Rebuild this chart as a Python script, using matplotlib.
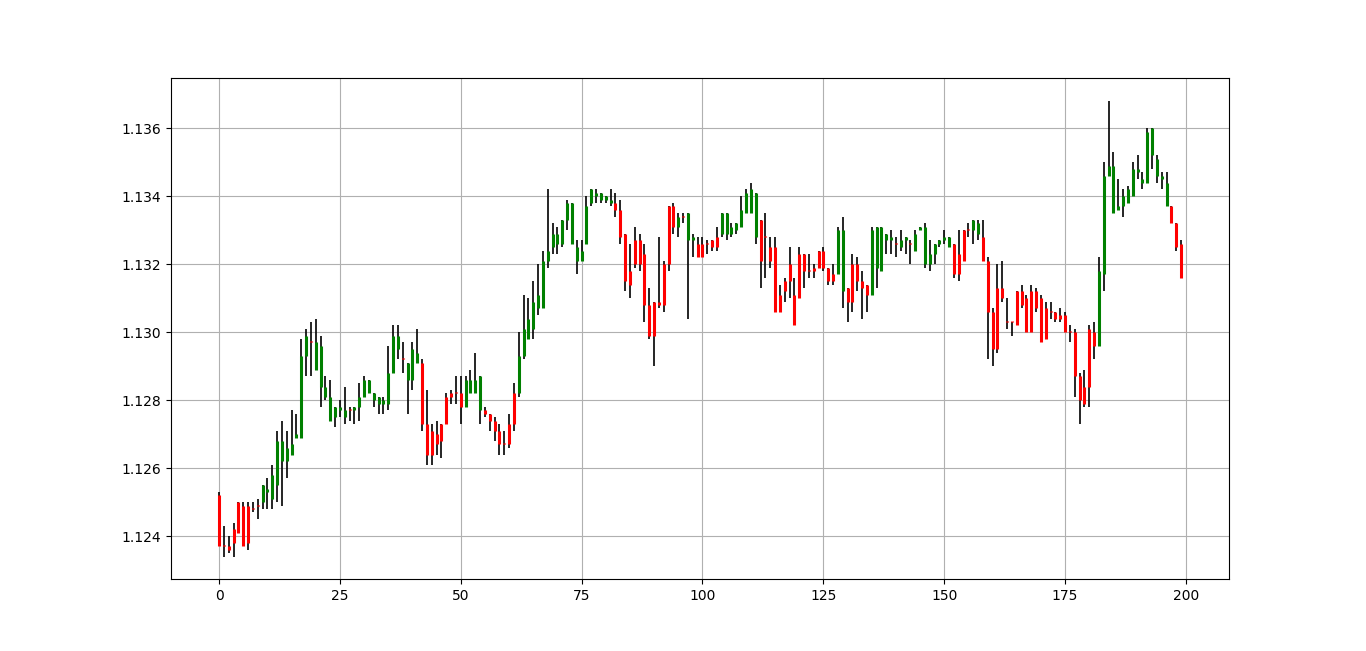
import matplotlib
matplotlib.use("Agg")
import matplotlib.pyplot as plt
import numpy as np

ohlc = [
(1.1252,1.1253,1.1237,1.1237),(1.1237,1.1243,1.1234,1.1237),(1.1237,1.1240,1.1235,1.1236),(1.1242,1.1244,1.1234,1.1238),
(1.1250,1.1250,1.1241,1.1241),(1.1249,1.1250,1.1237,1.1237),(1.1249,1.1250,1.1236,1.1238),(1.1248,1.1250,1.1247,1.1248),
(1.1249,1.1251,1.1245,1.1249),(1.1250,1.1255,1.1248,1.1255),(1.1253,1.1257,1.1248,1.1254),(1.1251,1.1261,1.1248,1.1258),
(1.1255,1.1271,1.1250,1.1268),(1.1262,1.1274,1.1249,1.1268),(1.1262,1.1271,1.1257,1.1266),(1.1264,1.1277,1.1264,1.1267),
(1.1269,1.1276,1.1269,1.1270),(1.1269,1.1298,1.1269,1.1293),(1.1293,1.1301,1.1287,1.1299),(1.1297,1.1303,1.1287,1.1297),
(1.1289,1.1304,1.1289,1.1297),(1.1284,1.1299,1.1278,1.1296),(1.1281,1.1287,1.1280,1.1284),(1.1274,1.1286,1.1274,1.1281),
(1.1275,1.1278,1.1272,1.1278),(1.1277,1.1280,1.1275,1.1278),(1.1275,1.1284,1.1273,1.1277),(1.1277,1.1278,1.1274,1.1277),
(1.1277,1.1278,1.1273,1.1278),(1.1278,1.1285,1.1274,1.1281),(1.1281,1.1287,1.1281,1.1286),(1.1282,1.1286,1.1282,1.1286),
(1.1280,1.1282,1.1278,1.1282),(1.1279,1.1281,1.1276,1.1281),(1.1279,1.1281,1.1276,1.1280),(1.1279,1.1296,1.1277,1.1288),
(1.1288,1.1302,1.1288,1.1299),(1.1295,1.1302,1.1292,1.1299),(1.1292,1.1297,1.1288,1.1292),(1.1286,1.1291,1.1276,1.1291),
(1.1286,1.1297,1.1283,1.1295),(1.1291,1.1301,1.1291,1.1294),(1.1291,1.1292,1.1271,1.1273),(1.1273,1.1283,1.1261,1.1264),
(1.1271,1.1273,1.1261,1.1264),(1.1270,1.1274,1.1264,1.1267),(1.1273,1.1273,1.1263,1.1268),(1.1281,1.1282,1.1273,1.1273),
(1.1282,1.1283,1.1279,1.1281),(1.1282,1.1287,1.1279,1.1282),(1.1282,1.1287,1.1273,1.1278),(1.1278,1.1287,1.1278,1.1286),
(1.1282,1.1289,1.1282,1.1286),(1.1282,1.1294,1.1282,1.1286),(1.1277,1.1287,1.1273,1.1287),(1.1277,1.1278,1.1275,1.1276),
(1.1276,1.1276,1.1271,1.1274),(1.1274,1.1275,1.1268,1.1271),(1.1271,1.1273,1.1264,1.1267),(1.1267,1.1271,1.1264,1.1267),
(1.1273,1.1276,1.1266,1.1267),(1.1282,1.1285,1.1271,1.1273),(1.1282,1.1300,1.1281,1.1293),(1.1293,1.1311,1.1292,1.1301),
(1.1298,1.1310,1.1298,1.1304),(1.1301,1.1315,1.1298,1.1309),(1.1307,1.1320,1.1305,1.1311),(1.1307,1.1324,1.1307,1.1321),
(1.1321,1.1342,1.1319,1.1324),(1.1325,1.1332,1.1323,1.1329),(1.1326,1.1331,1.1323,1.1329),(1.1326,1.1333,1.1325,1.1333),
(1.1333,1.1339,1.1330,1.1338),(1.1326,1.1338,1.1326,1.1338),(1.1321,1.1327,1.1317,1.1325),(1.1321,1.1327,1.1321,1.1324),
(1.1326,1.1340,1.1326,1.1337),(1.1338,1.1342,1.1337,1.1342),(1.1340,1.1342,1.1338,1.1341),(1.1339,1.1341,1.1338,1.1341),
(1.1339,1.1340,1.1338,1.1340),(1.1338,1.1342,1.1337,1.1339),(1.1338,1.1341,1.1334,1.1336),(1.1336,1.1339,1.1326,1.1328),
(1.1329,1.1329,1.1312,1.1315),(1.1318,1.1326,1.1310,1.1314),(1.1327,1.1331,1.1319,1.1320),(1.1327,1.1329,1.1318,1.1320),
(1.1323,1.1326,1.1303,1.1308),(1.1308,1.1313,1.1298,1.1299),(1.1309,1.1309,1.1290,1.1299),(1.1309,1.1328,1.1307,1.1308),
(1.1320,1.1321,1.1306,1.1308),(1.1337,1.1337,1.1318,1.1320),(1.1337,1.1338,1.1329,1.1331),(1.1331,1.1335,1.1328,1.1334),
(1.1334,1.1335,1.1332,1.1334),(1.1327,1.1335,1.1304,1.1335),(1.1327,1.1329,1.1322,1.1328),(1.1326,1.1328,1.1322,1.1322),
(1.1326,1.1328,1.1322,1.1322),(1.1326,1.1327,1.1323,1.1326),(1.1327,1.1327,1.1324,1.1325),(1.1328,1.1331,1.1324,1.1325),
(1.1329,1.1335,1.1328,1.1335),(1.1329,1.1335,1.1327,1.1335),(1.1329,1.1332,1.1328,1.1331),(1.1330,1.1332,1.1329,1.1332),
(1.1331,1.1340,1.1331,1.1336),(1.1335,1.1342,1.1335,1.1341),(1.1335,1.1344,1.1335,1.1342),(1.1328,1.1341,1.1326,1.1341),
(1.1333,1.1333,1.1313,1.1321),(1.1328,1.1335,1.1316,1.1328),(1.1325,1.1328,1.1319,1.1321),(1.1325,1.1328,1.1306,1.1306),
(1.1311,1.1314,1.1306,1.1306),(1.1315,1.1316,1.1309,1.1312),(1.1320,1.1325,1.1310,1.1315),(1.1311,1.1316,1.1302,1.1302),
(1.1323,1.1325,1.1310,1.1310),(1.1323,1.1323,1.1313,1.1318),(1.1318,1.1323,1.1316,1.1318),(1.1319,1.1320,1.1316,1.1318),
(1.1324,1.1324,1.1319,1.1319),(1.1324,1.1325,1.1318,1.1319),(1.1319,1.1319,1.1314,1.1315),(1.1317,1.1320,1.1314,1.1315),
(1.1317,1.1331,1.1317,1.1330),(1.1312,1.1334,1.1307,1.1330),(1.1313,1.1313,1.1303,1.1309),(1.1320,1.1323,1.1306,1.1309),
(1.1320,1.1322,1.1312,1.1315),(1.1315,1.1318,1.1304,1.1313),(1.1314,1.1314,1.1306,1.1311),(1.1311,1.1331,1.1311,1.1330),
(1.1319,1.1331,1.1313,1.1331),(1.1318,1.1331,1.1318,1.1331),(1.1327,1.1329,1.1323,1.1329),(1.1327,1.1330,1.1323,1.1328),
(1.1326,1.1328,1.1322,1.1326),(1.1325,1.1330,1.1324,1.1327),(1.1327,1.1328,1.1323,1.1328),(1.1326,1.1327,1.1320,1.1326),
(1.1324,1.1330,1.1324,1.1329),(1.1330,1.1331,1.1330,1.1331),(1.1320,1.1332,1.1319,1.1331),(1.1320,1.1327,1.1318,1.1323),
(1.1323,1.1326,1.1320,1.1326),(1.1326,1.1327,1.1325,1.1327),(1.1327,1.1330,1.1326,1.1328),(1.1325,1.1328,1.1325,1.1328),
(1.1326,1.1326,1.1316,1.1317),(1.1323,1.1330,1.1315,1.1317),(1.1330,1.1330,1.1321,1.1321),(1.1330,1.1332,1.1328,1.1330),
(1.1330,1.1333,1.1326,1.1333),(1.1329,1.1333,1.1327,1.1332),(1.1328,1.1333,1.1321,1.1321),(1.1321,1.1322,1.1292,1.1306),
(1.1306,1.1307,1.1290,1.1295),(1.1313,1.1320,1.1294,1.1295),(1.1313,1.1321,1.1309,1.1310),(1.1303,1.1310,1.1301,1.1303),
(1.1303,1.1303,1.1299,1.1303),(1.1312,1.1312,1.1302,1.1302),(1.1312,1.1314,1.1307,1.1308),(1.1310,1.1311,1.1300,1.1300),
(1.1312,1.1314,1.1300,1.1300),(1.1312,1.1313,1.1306,1.1307),(1.1310,1.1311,1.1297,1.1297),(1.1307,1.1309,1.1298,1.1298),
(1.1306,1.1309,1.1304,1.1306),(1.1306,1.1306,1.1303,1.1304),(1.1305,1.1307,1.1303,1.1304),(1.1305,1.1306,1.1300,1.1300),
(1.1300,1.1302,1.1297,1.1300),(1.1300,1.1301,1.1281,1.1287),(1.1287,1.1288,1.1273,1.1280),(1.1284,1.1289,1.1278,1.1279),
(1.1301,1.1302,1.1278,1.1284),(1.1300,1.1303,1.1292,1.1296),(1.1296,1.1322,1.1296,1.1318),(1.1317,1.1350,1.1312,1.1346),
(1.1346,1.1368,1.1346,1.1349),(1.1335,1.1353,1.1335,1.1349),(1.1336,1.1345,1.1336,1.1337),(1.1337,1.1342,1.1334,1.1340),
(1.1338,1.1343,1.1338,1.1342),(1.1340,1.1350,1.1340,1.1348),(1.1347,1.1352,1.1345,1.1348),(1.1344,1.1347,1.1342,1.1345),
(1.1344,1.1360,1.1344,1.1359),(1.1352,1.1360,1.1348,1.1360),(1.1346,1.1352,1.1344,1.1351),(1.1345,1.1347,1.1342,1.1346),
(1.1337,1.1347,1.1337,1.1344),(1.1337,1.1337,1.1332,1.1332),(1.1332,1.1332,1.1324,1.1325),(1.1326,1.1327,1.1316,1.1316),
]
opens = [r[0] for r in ohlc]
highs = [r[1] for r in ohlc]
lows = [r[2] for r in ohlc]
closes = [r[3] for r in ohlc]
x = np.arange(len(ohlc))

fig, ax = plt.subplots(figsize=(13.66, 6.51), dpi=100)
ax.vlines(x, lows, highs, color="black", linewidth=1.2, zorder=2)
cols = ["green" if c > o else "red" for o, c in zip(opens, closes)]
bot = np.minimum(opens, closes)
top = np.maximum(opens, closes)
top = np.where(top - bot < 0.00003, bot + 0.00003, top)
ax.vlines(x, bot, top, colors=cols, linewidth=2.2, zorder=3)
ax.grid(True)
ax.set_axisbelow(True)
ax.set_xlim(-10, 209)
fig.savefig("out.png", dpi=100)
